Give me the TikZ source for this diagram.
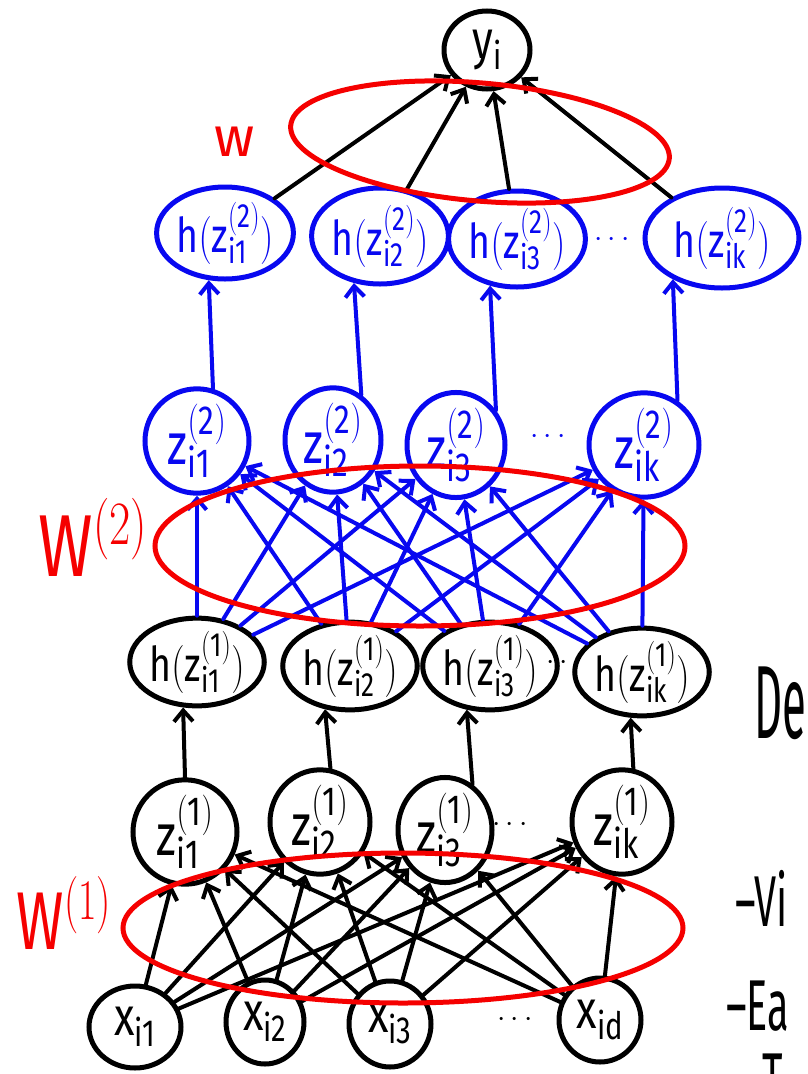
\RequirePackage{fix-cm}
\documentclass[tikz,border=0pt]{standalone}
\usepackage{fontspec}
\setmainfont{Fira Sans}
\setsansfont{Fira Sans}
\usetikzlibrary{shapes.geometric,arrows.meta}
\definecolor{netblue}{RGB}{8,8,240}
\definecolor{netred}{RGB}{245,0,0}
\newcommand{\lb}[1]{\scalebox{0.78}[1]{$\mathsf{#1}$}}
\newcommand{\narrow}[2]{\scalebox{#1}[1]{#2}}
\begin{document}
\begin{tikzpicture}[x=1pt,y=-1pt,
  unit/.style={ellipse, line width=5pt, inner sep=0pt, font=\fontsize{48}{52}\selectfont},
  kunit/.style={unit, draw=black, text=black},
  bunit/.style={unit, draw=netblue, text=netblue},
  zunit/.style={font=\fontsize{58}{62}\selectfont},
  xunit/.style={font=\fontsize{54}{58}\selectfont},
  arr/.style={line width=4pt, line cap=round,
    -{Straight Barb[length=11pt,width=19pt,line width=4pt]}},
  karr/.style={arr, draw=black},
  barr/.style={arr, draw=netblue},
  wset/.style={ellipse, draw=netred, line width=5pt, inner sep=0pt},
  wlab/.style={text=netred, inner sep=0pt},
  gap/.style={font=\fontsize{30}{34}\selectfont, inner sep=0pt},
  note/.style={font=\fontsize{72}{76}\selectfont, inner sep=0pt, anchor=west}
]
\useasboundingbox (0,0) rectangle (807,1074);
\clip (0,0) rectangle (807,1074);
\fill[white] (0,0) rectangle (807,1074);

% output unit
\node[kunit, xunit, minimum width=86, minimum height=78] (y) at (487,50) {\lb{y_i}};

% second hidden layer, activations
\node[bunit, minimum width=134, minimum height=92]  (ha1) at (225,233) {\lb{h(z_{i1}^{(2)})}};
\node[bunit, minimum width=110, minimum height=96]  (ha2) at (380,236) {\lb{h(z_{i2}^{(2)})}};
\node[bunit, minimum width=112, minimum height=96]  (ha3) at (517,239) {\lb{h(z_{i3}^{(2)})}};
\node[bunit, minimum width=154, minimum height=100] (ha4) at (722,238) {\lb{h(z_{ik}^{(2)})}};
\node[gap, text=netblue] (hadots) at (612,240) {$\cdots$};

% second hidden layer, pre-activations
\node[bunit, zunit, minimum width=104, minimum height=90]  (za1) at (197,441) {\lb{z_{i1}^{(2)}}};
\node[bunit, zunit, minimum width=96,  minimum height=84]  (za2) at (333,440) {\lb{z_{i2}^{(2)}}};
\node[bunit, zunit, minimum width=98,  minimum height=92]  (za3) at (456,445) {\lb{z_{i3}^{(2)}}};
\node[bunit, zunit, minimum width=110, minimum height=100] (za4) at (644,445) {\lb{z_{ik}^{(2)}}};
\node[gap, text=netblue] (zadots) at (548,437) {$\cdots$};

% first hidden layer, activations
\node[kunit, minimum width=134, minimum height=78] (hb1) at (197,662) {\lb{h(z_{i1}^{(1)})}};
\node[kunit, minimum width=112, minimum height=80] (hb2) at (350,666) {\lb{h(z_{i2}^{(1)})}};
\node[kunit, minimum width=110, minimum height=84] (hb3) at (490,666) {\lb{h(z_{i3}^{(1)})}};
\node[kunit, minimum width=116, minimum height=84] (hb4) at (642,672) {\lb{h(z_{ik}^{(1)})}};
\node[gap] (hbdots) at (564,663) {$\cdots$};

% first hidden layer, pre-activations
\node[kunit, zunit, minimum width=104, minimum height=100] (zb1) at (185,832) {\lb{z_{i1}^{(1)}}};
\node[kunit, zunit, minimum width=100, minimum height=92]  (zb2) at (320,822) {\lb{z_{i2}^{(1)}}};
\node[kunit, zunit, minimum width=94,  minimum height=92]  (zb3) at (445,830) {\lb{z_{i3}^{(1)}}};
\node[kunit, zunit, minimum width=100, minimum height=100] (zb4) at (622,822) {\lb{z_{ik}^{(1)}}};
\node[gap] (zbdots) at (510,825) {$\cdots$};

% inputs
\node[kunit, xunit, minimum width=92, minimum height=82] (x1) at (135,1027) {\lb{x_{i1}}};
\node[kunit, xunit, minimum width=78, minimum height=84] (x2) at (265,1022) {\lb{x_{i2}}};
\node[kunit, xunit, minimum width=82, minimum height=86] (x3) at (390,1024) {\lb{x_{i3}}};
\node[kunit, xunit, minimum width=82, minimum height=84] (x4) at (600,1020) {\lb{x_{id}}};
\node[gap] (xdots) at (515,1020) {$\cdots$};

% weights W^(1): inputs to first layer
\foreach \j in {1,...,4}
  \foreach \k in {1,...,4}
    \draw[karr] (x\j) -- (zb\k);
% activation of first layer (nearly vertical strokes)
\draw[karr] (zb1.north) -- (hb1.253);
\draw[karr] (zb2.79) -- (hb2.240);
\draw[karr] (zb3.59) -- (hb3.242);
\draw[karr] (zb4.78) -- (hb4.256);
% weights W^(2): first layer to second layer
\foreach \j in {1,...,4}
  \foreach \k in {1,...,4}
    \draw[barr] (hb\j) -- (za\k);
% activation of second layer
\draw[barr] (za1.73) -- (ha1.251);
\draw[barr] (za2.58) -- (ha2.241);
\draw[barr] (za3.41) -- (ha3.240);
\draw[barr] (za4.53) -- (ha4.220);
% weights w: second layer to output
\foreach \k in {1,...,4}
  \draw[karr] (ha\k) -- (y);

% weight groups
\node[wset, minimum width=380, minimum height=118, rotate=-5] (wtop) at (480,142) {};
\node[wset, minimum width=530, minimum height=160] (wmid) at (420,546) {};
\node[wset, minimum width=560, minimum height=150] (wlow) at (403,928) {};
\node[wlab, font=\fontsize{56}{60}\selectfont] (wtoplab) at (235,142) {w};
\node[wlab, font=\fontsize{88}{92}\selectfont] (wmidlab) at (93,537) {\narrow{0.75}{$\mathsf{W}^{(2)}$}};
\node[wlab, font=\fontsize{82}{86}\selectfont] (wlowlab) at (64,913) {\narrow{0.7}{$\mathsf{W}^{(1)}$}};

% notes at the right
\node[note, font=\fontsize{104}{108}\selectfont] (nde) at (754,703) {\narrow{0.42}{De}};
\node[note] (nvi) at (735,898) {\narrow{0.55}{–Vi}};
\node[note] (nea) at (726,1006) {\narrow{0.55}{–Ea}};
\node[note, anchor=north west] (nt) at (762,1054) {\narrow{0.55}{T}};
\end{tikzpicture}
\end{document}
